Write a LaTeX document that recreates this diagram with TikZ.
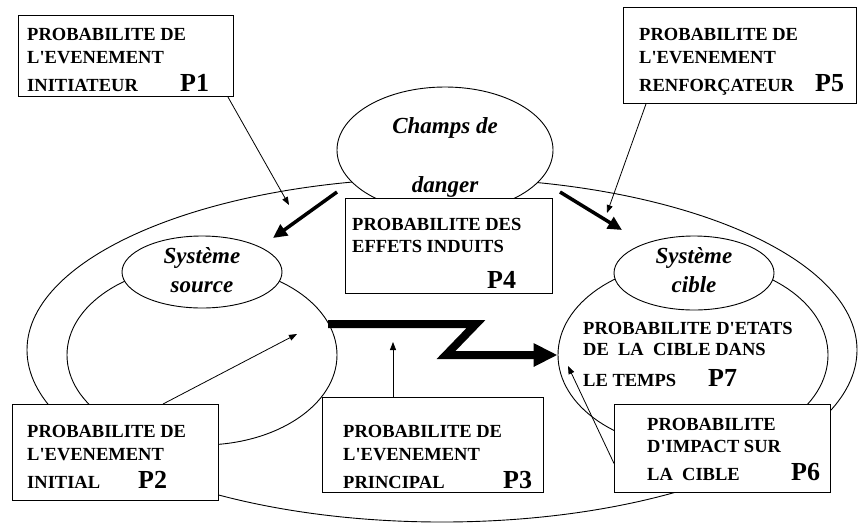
\documentclass[tikz,border=0pt]{standalone}
\usepackage{fontspec}
\setmainfont{Liberation Serif}
\usetikzlibrary{shapes.geometric,arrows.meta}

\begin{document}
\begin{tikzpicture}[x=1pt,y=-1pt,
  pbox/.style={draw, line width=0.9pt, fill=white, rectangle, inner sep=0, anchor=north west},
  bubble/.style={draw, line width=0.9pt, fill=white, ellipse, inner sep=0},
  ring/.style={draw, line width=0.9pt, ellipse, inner sep=0},
  caps/.style={font=\fontsize{18.5}{20}\selectfont\bfseries, anchor=base west, inner sep=0},
  plabel/.style={font=\fontsize{26}{28}\selectfont\bfseries, anchor=base west, inner sep=0},
  ital/.style={font=\fontsize{23}{25}\selectfont\bfseries\itshape, anchor=base, inner sep=0},
  thinarrow/.style={line width=0.8pt, -{Triangle[length=8pt,width=6pt]}},
  boldarrow/.style={line width=3.5pt, -{Triangle[length=14pt,width=13pt]}},
  flow/.style={line width=8pt, line join=miter, -{Triangle[length=24pt,width=22pt]}},
]
\useasboundingbox (0,0) rectangle (858,523);

% large rings
\node[ring, minimum width=830pt, minimum height=344pt] (outer) at (442,350) {};
\node[ring, minimum width=270pt, minimum height=180pt] (srcloop) at (202,355) {};
\node[ring, minimum width=270pt, minimum height=186pt] (tgtloop) at (693,355) {};

% systems
\node[bubble, minimum width=216pt, minimum height=126pt] (champs) at (445,150) {};
\node[bubble, minimum width=160pt, minimum height=72pt] (src) at (202,272) {};
\node[bubble, minimum width=160pt, minimum height=74pt] (tgt) at (694,273) {};

\node[ital] (champs1) at (445,133) {Champs de};
\node[ital] (champs2) at (445,192) {danger};
\node[ital] (src1) at (202,263) {Système};
\node[ital] (src2) at (202,292) {source};
\node[ital] (tgt1) at (694,263) {Système};
\node[ital] (tgt2) at (694,292) {cible};

% probability boxes
\node[pbox, minimum width=215pt, minimum height=81pt] (b1) at (18,15) {};
\node[pbox, minimum width=233pt, minimum height=96pt] (b5) at (623,7) {};
\node[pbox, minimum width=207pt, minimum height=95pt] (b4) at (345,198) {};
\node[pbox, minimum width=206pt, minimum height=96pt] (b2) at (12,404) {};
\node[pbox, minimum width=221pt, minimum height=95pt] (b3) at (322,397) {};
\node[pbox, minimum width=216pt, minimum height=88pt] (b6) at (614,404) {};

\node[caps] (t1a) at (27,40) {PROBABILITE DE};
\node[caps] (t1b) at (27,63) {L\textquotesingle EVENEMENT};
\node[caps] (t1c) at (27,91) {INITIATEUR};
\node[plabel] (p1) at (180,91) {P1};

\node[caps] (t5a) at (639,40) {PROBABILITE DE};
\node[caps] (t5b) at (639,63) {L\textquotesingle EVENEMENT};
\node[caps] (t5c) at (639,91) {RENFORÇATEUR};
\node[plabel] (p5) at (815,91) {P5};

\node[caps] (t4a) at (352,230) {PROBABILITE DES};
\node[caps] (t4b) at (352,252) {EFFETS INDUITS};
\node[plabel] (p4) at (487,288) {P4};

\node[caps] (t2a) at (27,437) {PROBABILITE DE};
\node[caps] (t2b) at (27,460) {L\textquotesingle EVENEMENT};
\node[caps] (t2c) at (27,488) {INITIAL};
\node[plabel] (p2) at (138,488) {P2};

\node[caps] (t3a) at (343,437) {PROBABILITE DE};
\node[caps] (t3b) at (343,460) {L\textquotesingle EVENEMENT};
\node[caps] (t3c) at (343,488) {PRINCIPAL};
\node[plabel] (p3) at (503,488) {P3};

\node[caps] (t7a) at (583,334) {PROBABILITE D\textquotesingle ETATS};
\node[caps] (t7b) at (583,355) {DE\ \ LA\ \ CIBLE DANS};
\node[caps] (t7c) at (583,386) {LE TEMPS};
\node[plabel] (p7) at (708,386) {P7};

\node[caps] (t6a) at (647,430) {PROBABILITE};
\node[caps] (t6b) at (647,452) {D\textquotesingle IMPACT SUR};
\node[caps] (t6c) at (647,480) {LA\ \ CIBLE};
\node[plabel] (p6) at (791,480) {P6};

% arrow end points
\coordinate (e1) at (289,205);
\coordinate (e5) at (607,213);
\coordinate (e2) at (297,334);
\coordinate (e3) at (393,342);
\coordinate (e6) at (568,366);
\coordinate (hl) at (337,192);
\coordinate (hlend) at (273,238);
\coordinate (hr) at (560,192);
\coordinate (hrend) at (622,230);
\coordinate (z0) at (328,324);
\coordinate (z1) at (476,324);
\coordinate (z2) at (446,355);

% thin arrows
\draw[thinarrow] ([xshift=-6pt]b1.south east) -- (e1);
\draw[thinarrow] ([xshift=23pt]b5.south west) -- (e5);
\draw[thinarrow] ([xshift=151pt]b2.north west) -- (e2);
\draw[thinarrow] ([xshift=71pt]b3.north west) -- (e3);
\draw[thinarrow] ([yshift=-15pt]b6.west) -- (e6);

% bold arrows from the danger field
\draw[boldarrow] (hl) -- (hlend);
\draw[boldarrow] (hr) -- (hrend);

% main flow
\draw[flow] (z0) -- (z1) -- (z2) -- (tgtloop.west);
\end{tikzpicture}
\end{document}
